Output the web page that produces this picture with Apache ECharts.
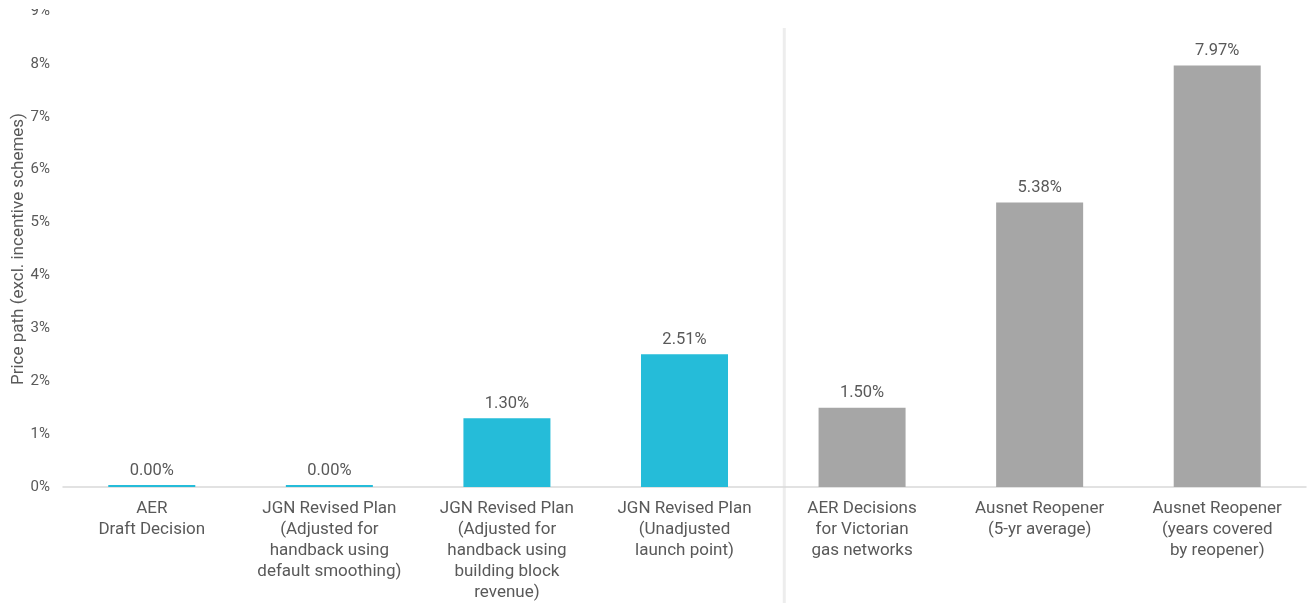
<!DOCTYPE html>
<html>
<head>
<meta charset="utf-8">
<script src="https://cdn.jsdelivr.net/npm/echarts@6/dist/echarts.min.js"></script>
<style>
html,body{margin:0;padding:0;background:#fff;overflow:hidden;}
#wrap{position:absolute;left:0;top:9px;width:1311px;height:594px;overflow:hidden;}
#chart{position:absolute;left:0;top:-10px;width:1311px;height:613px;}
</style>
</head>
<body>
<div id="wrap"><div id="chart"></div></div>
<script>
const categories = [
  "AER\nDraft Decision",
  "JGN Revised Plan\n(Adjusted for\nhandback using\ndefault smoothing)",
  "JGN Revised Plan\n(Adjusted for\nhandback using\nbuilding block\nrevenue)",
  "JGN Revised Plan\n(Unadjusted\nlaunch point)",
  "AER Decisions\nfor Victorian\ngas networks",
  "Ausnet Reopener\n(5-yr average)",
  "Ausnet Reopener\n(years covered\nby reopener)"
];
const values = [0.00, 0.00, 1.30, 2.51, 1.50, 5.38, 7.97];
const groups = ["JGN", "JGN", "JGN", "JGN", "Other", "Other", "Other"];
const yTicks = [0, 1, 2, 3, 4, 5, 6, 7, 8, 9];
const yAxisTitle = "Price path (excl. incentive schemes)";

const colors = { JGN: "#25BCD9", Other: "#A6A6A6" };
const font = "Roboto, 'Noto Sans', sans-serif";

const chart = echarts.init(document.getElementById('chart'), null, { renderer: 'canvas' });
const option = {
  animation: false,
  grid: { left: 63, right: 5, top: 12, bottom: 125, containLabel: false, outerBoundsMode: 'none' },
  xAxis: {
    type: 'category',
    data: categories,
    axisLine: { show: true, lineStyle: { color: '#D9D9D9', width: 1.5 } },
    axisTick: { show: false },
    axisLabel: { interval: 0, color: '#595959', fontSize: 17, lineHeight: 21, margin: 11, fontFamily: font }
  },
  yAxis: {
    type: 'value',
    min: yTicks[0],
    max: yTicks[yTicks.length - 1],
    interval: 1,
    name: yAxisTitle,
    nameLocation: 'middle',
    nameGap: 36,
    nameMoveOverlap: false,
    nameTextStyle: { color: '#595959', fontSize: 17, fontFamily: font },
    axisLine: { show: false },
    axisTick: { show: false },
    splitLine: { show: false },
    axisLabel: { color: '#595959', fontSize: 15, margin: 13, fontFamily: font, formatter: v => v + '%' }
  },
  series: [{
    type: 'bar',
    barWidth: '49%',
    barMinHeight: 2,
    data: values.map((v, i) => ({ value: v, itemStyle: { color: colors[groups[i]] } })),
    label: {
      show: true, position: 'top', distance: 6,
      color: '#595959', fontSize: 16.5, fontFamily: font,
      formatter: p => p.value.toFixed(2) + '%'
    }
  }]
};
chart.setOption(option);

// separator between JGN group and comparison group
const splitIdx = groups.indexOf("Other");
const xA = chart.convertToPixel({ xAxisIndex: 0 }, splitIdx - 1);
const xB = chart.convertToPixel({ xAxisIndex: 0 }, splitIdx);
const sepX = (xA + xB) / 2 + 11;
chart.setOption({
  graphic: [{
    type: 'line',
    shape: { x1: sepX, y1: 29, x2: sepX, y2: 613 },
    style: { stroke: '#EDEDED', lineWidth: 3 },
    silent: true
  }]
});
</script>
</body>
</html>
